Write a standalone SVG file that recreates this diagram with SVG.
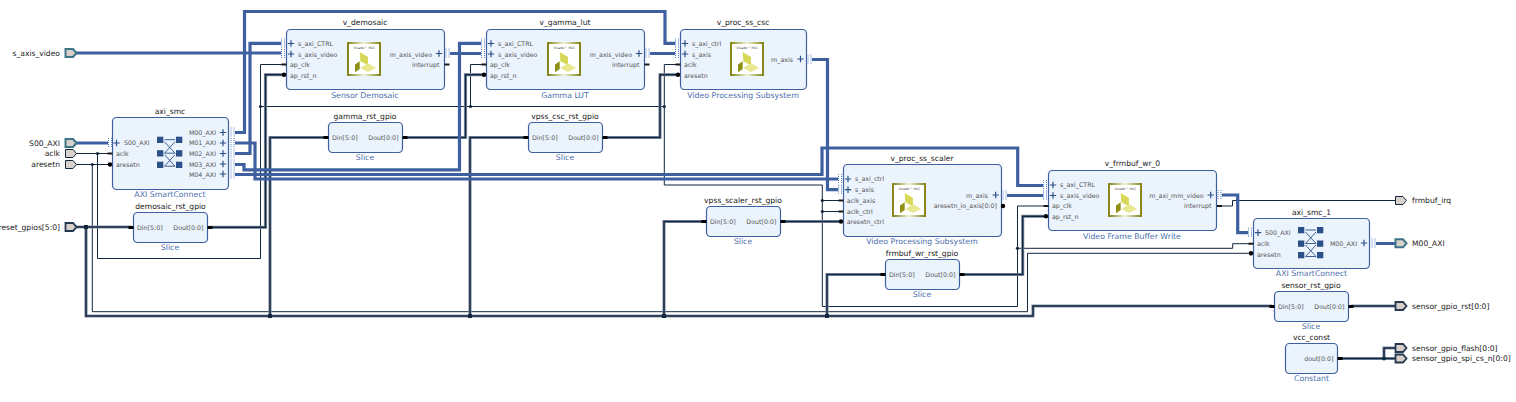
<svg xmlns="http://www.w3.org/2000/svg" xmlns:xlink="http://www.w3.org/1999/xlink" width="1516" height="402" viewBox="0 0 1516 402">
<style>
text{font-family:"DejaVu Sans",sans-serif;text-rendering:geometricPrecision}
.t{font-size:7.6px;fill:#1a1a1a;text-anchor:middle}
.s{font-size:7.8px;fill:#4d6fae;text-anchor:middle}
.p{font-size:6.3px;fill:#555}
.x{font-size:7.6px;fill:#222}
.b{fill:#ebf3fd;stroke:#3f60a0;stroke-width:1.2}
.bus{fill:none;stroke:#3f60a0;stroke-width:3.2}
.clk{fill:none;stroke:#12263f;stroke-width:1}
.hal{fill:none;stroke:#8796a8;stroke-width:3.2}
.dat{fill:none;stroke:#12263f;stroke-width:1.5}
.j{fill:#12263f}
.pb{fill:#d8d0cb;stroke:#3c7488;stroke-width:2}
.pc{fill:#d8d0cb;stroke:#12263f;stroke-width:1}
.pd{fill:#d8d0cb;stroke:#243850;stroke-width:1.8}
</style>
<defs>
<linearGradient id="g" x1="0" y1="0" x2="1" y2="0"><stop offset="0" stop-color="#85851a"/><stop offset="0.5" stop-color="#f2f2d8"/><stop offset="1" stop-color="#85851a"/></linearGradient>
<g id="bp"><rect x="-0.500" y="-5" width="4" height="10" fill="#fff"/><path d="M0-5V5M3-5V5" fill="none" stroke="#4a80c4" stroke-width="1" stroke-dasharray="1 1"/></g>
<path id="plus" d="M-3.200 0H3.200M0-3.200V3.200" fill="none" stroke="#2c5088" stroke-width="1.200"/>
<rect id="ck" x="-2.500" y="-1" width="5" height="2" fill="#1a1a1a"/>
<rect id="dp" x="-2.500" y="-1.500" width="5" height="3" fill="#000"/>
<circle id="rs" r="2.200" fill="#000"/>
<path id="pt" d="M0-4H7.500L11 0 7.500 4H0Z"/>
<g id="hls">
<rect x="1" y="1" width="32" height="32" fill="#fff" stroke="url(#g)" stroke-width="2"/>
<text x="17" y="6.800" font-size="3.200" fill="#333" text-anchor="middle">Vivado™ HLS</text>
<path d="M12.700 10 21 15V23.300L13.300 19.300Z" fill="#d8d858"/>
<path d="M13.300 26 21 21 29 26 21 30Z" fill="#e8e890"/>
<path d="M8 22.600 12.700 19.300V27L8 30.300Z" fill="#8f8f10"/>
</g>
<g id="xb">
<g fill="#2c5088"><rect x="0" y="0" width="6.300" height="6.300"/><rect x="19" y="0" width="6.300" height="6.300"/><rect x="0" y="13.500" width="6.300" height="6.300"/><rect x="19" y="13.500" width="6.300" height="6.300"/><rect x="0" y="25" width="6.300" height="6.300"/><rect x="19" y="25" width="6.300" height="6.300"/></g>
<path d="M7.500 3H18M7.500 5 18 16.500M18 5 7.500 16.500M7.500 16.500H18M7.500 18 18 29.500M18 18 7.500 29.500M7.500 29.500H18" fill="none" stroke="#2c5088" stroke-width="0.900"/>
</g>
</defs>
<rect width="1516" height="402" fill="#fff"/>
<g id="connectors">
<g id="clock-wires" class="clk">
<path d="M76 153.500H109M97.500 153.500V258.500H260.500V64.500H284M260.500 106.500H664.300M470.500 106.500V64.500H484M664.300 64.500H678M664.300 64.500V185H822.300V306.500H1017.500V206H1046M822.300 200.500H841M822.300 211.500H841M1017.500 248.300H1232.700V243.700H1251"/>
<path d="M76 164.500H109M92.300 164.500V311.700H1027.500V253.300H1251"/>
<path d="M1219 206H1232.500V200.500H1395"/>
</g>
<g id="data-halo" class="hal">
<path id="d1" d="M76 227H131M86 227V316H1033V306H1272"/>
<path id="d2" d="M270 316V137.500H326M470 316V137.500H526M664 316V221.500H704M827 316V274.500H883"/>
<path id="d3" d="M210 227.300H265.500V74.700H284M405 137.500H465.500V74.700H484M605 137.500H660V74.700H678M783 221.500H841M962 274.500H1022.700V216.300H1046M1351 306H1395M1340 358.500H1395M1384 358.500V348H1395"/>
</g>
<g id="data-core" class="dat">
<use xlink:href="#d1"/><use xlink:href="#d2"/><use xlink:href="#d3"/>
</g>
<g id="junctions" class="j">
<circle cx="97.500" cy="153.500" r="1.600"/><circle cx="92.300" cy="164.500" r="1.600"/>
<rect x="84" y="225" width="4" height="4"/>
<rect x="268" y="314" width="4" height="4"/><rect x="468" y="314" width="4" height="4"/><rect x="662" y="314" width="4" height="4"/><rect x="825" y="314" width="4" height="4"/>
<circle cx="260.500" cy="106.500" r="1.600"/><circle cx="470.500" cy="106.500" r="1.600"/><circle cx="664.300" cy="106.500" r="1.600"/>
<circle cx="822.300" cy="200.500" r="1.600"/><circle cx="822.300" cy="211.500" r="1.600"/><circle cx="1017.500" cy="248.300" r="1.600"/>
<circle cx="1384" cy="358.500" r="2"/>
</g>
<g id="bus-wires" class="bus">
<path d="M76 53H282M76 143H108"/>
<path d="M235 132.500H244.500V11.500H665V43.300H676"/>
<path d="M235 143H255V179H838"/>
<path d="M235 153.500H250V43.300H282"/>
<path d="M235 164.500H244V169.800H459.500V43.300H482"/>
<path d="M235 174.500H822V148H1017.700V185.500H1044"/>
<path d="M450 53.500H482M650 53.500H676M812 59.500H827.500V189.700H838M1007 195.500H1044M1222 195H1237.700V232.700H1249M1376 243.500H1395"/>
</g>
</g>
<g id="port_s_axis_video"><use xlink:href="#pt" x="65.500" y="53" class="pb"/><text x="60" y="55.800" class="x" text-anchor="end">s_axis_video</text></g>
<g id="port_S00_AXI"><use xlink:href="#pt" x="65.500" y="143" class="pb"/><text x="60" y="146" class="x" text-anchor="end">S00_AXI</text></g>
<g id="port_aclk"><use xlink:href="#pt" x="65.500" y="153.500" class="pc"/><text x="60" y="156.300" class="x" text-anchor="end">aclk</text></g>
<g id="port_aresetn"><use xlink:href="#pt" x="65.500" y="164.500" class="pc"/><text x="60" y="167.300" class="x" text-anchor="end">aresetn</text></g>
<g id="port_reset_gpios"><use xlink:href="#pt" x="65.500" y="227" class="pd"/><text x="60" y="229.800" class="x" text-anchor="end">reset_gpios[5:0]</text></g>
<g id="port_frmbuf_irq"><use xlink:href="#pt" x="1395.500" y="200.500" class="pc"/><text x="1412" y="203.300" class="x">frmbuf_irq</text></g>
<g id="port_M00_AXI"><use xlink:href="#pt" x="1395.500" y="243.300" class="pb"/><text x="1412" y="246.100" class="x">M00_AXI</text></g>
<g id="port_sensor_gpio_rst"><use xlink:href="#pt" x="1395.500" y="306" class="pd"/><text x="1412" y="309" class="x">sensor_gpio_rst[0:0]</text></g>
<g id="port_sensor_gpio_flash"><use xlink:href="#pt" x="1395.500" y="348" class="pd"/><text x="1412" y="351" class="x">sensor_gpio_flash[0:0]</text></g>
<g id="port_sensor_gpio_spi_cs_n"><use xlink:href="#pt" x="1395.500" y="358.500" class="pd"/><text x="1412" y="361" class="x">sensor_gpio_spi_cs_n[0:0]</text></g>

<g id="axi_smc">
<rect class="b" x="112.500" y="117.500" width="116" height="72" rx="4"/>
<text class="t" x="170" y="114">axi_smc</text><text class="s" x="170" y="197">AXI SmartConnect</text>
<use xlink:href="#bp" x="108.500" y="143"/><use xlink:href="#plus" x="116.500" y="143"/>
<use xlink:href="#ck" x="110" y="153.500"/><use xlink:href="#rs" x="110" y="164.500"/>
<text class="p" x="124" y="145.200">S00_AXI</text><text class="p" x="116" y="155.700">aclk</text><text class="p" x="116" y="166.700">aresetn</text>
<use xlink:href="#xb" x="157" y="136.700"/>
<text class="p" x="216" y="134.700" text-anchor="end">M00_AXI</text><text class="p" x="216" y="145.200" text-anchor="end">M01_AXI</text><text class="p" x="216" y="155.700" text-anchor="end">M02_AXI</text><text class="p" x="216" y="166.700" text-anchor="end">M03_AXI</text><text class="p" x="216" y="176.700" text-anchor="end">M04_AXI</text>
<use xlink:href="#plus" x="223" y="132.500"/><use xlink:href="#plus" x="223" y="143"/><use xlink:href="#plus" x="223" y="153.500"/><use xlink:href="#plus" x="223" y="164"/><use xlink:href="#plus" x="223" y="174"/>
<use xlink:href="#bp" x="231" y="132.500"/><use xlink:href="#bp" x="231" y="143"/><use xlink:href="#bp" x="231" y="153.500"/><use xlink:href="#bp" x="231" y="164.500"/><use xlink:href="#bp" x="231" y="174.500"/>
</g>

<g id="v_demosaic">
<rect class="b" x="286.500" y="29.500" width="158" height="60" rx="4"/>
<text class="t" x="365" y="25">v_demosaic</text><text class="s" x="365" y="98">Sensor Demosaic</text>
<use xlink:href="#bp" x="281.500" y="43.500"/><use xlink:href="#bp" x="281.500" y="54"/><use xlink:href="#plus" x="291" y="43.500"/><use xlink:href="#plus" x="291" y="54"/>
<use xlink:href="#ck" x="284" y="64.500"/><use xlink:href="#rs" x="284" y="74.700"/>
<text class="p" x="298" y="45.800">s_axi_CTRL</text><text class="p" x="298" y="56.500">s_axis_video</text><text class="p" x="290" y="66.800">ap_clk</text><text class="p" x="290" y="78">ap_rst_n</text>
<use xlink:href="#hls" x="347" y="42"/>
<text class="p" x="432" y="56.500" text-anchor="end">m_axis_video</text><text class="p" x="439.500" y="66.800" text-anchor="end">interrupt</text>
<use xlink:href="#plus" x="439" y="53.500"/><use xlink:href="#bp" x="446" y="53.500"/><use xlink:href="#ck" x="447" y="64.500"/>
</g>

<g id="v_gamma_lut">
<rect class="b" x="486.500" y="29.500" width="158" height="60" rx="4"/>
<text class="t" x="565" y="25">v_gamma_lut</text><text class="s" x="565" y="98">Gamma LUT</text>
<use xlink:href="#bp" x="481.500" y="43.500"/><use xlink:href="#bp" x="481.500" y="54"/><use xlink:href="#plus" x="491" y="43.500"/><use xlink:href="#plus" x="491" y="54"/>
<use xlink:href="#ck" x="484" y="64.500"/><use xlink:href="#rs" x="484" y="74.700"/>
<text class="p" x="498" y="45.800">s_axi_CTRL</text><text class="p" x="498" y="56.500">s_axis_video</text><text class="p" x="490" y="66.800">ap_clk</text><text class="p" x="490" y="78">ap_rst_n</text>
<use xlink:href="#hls" x="547" y="42"/>
<text class="p" x="632" y="56.500" text-anchor="end">m_axis_video</text><text class="p" x="639.500" y="66.800" text-anchor="end">interrupt</text>
<use xlink:href="#plus" x="639" y="53.500"/><use xlink:href="#bp" x="646" y="53.500"/><use xlink:href="#ck" x="647" y="64.500"/>
</g>

<g id="v_proc_ss_csc">
<rect class="b" x="680.500" y="29.500" width="126" height="60" rx="4"/>
<text class="t" x="743" y="25">v_proc_ss_csc</text><text class="s" x="743" y="98">Video Processing Subsystem</text>
<use xlink:href="#bp" x="675.500" y="43.500"/><use xlink:href="#bp" x="675.500" y="54"/><use xlink:href="#plus" x="685" y="43.500"/><use xlink:href="#plus" x="685" y="54"/>
<use xlink:href="#ck" x="678" y="64.500"/><use xlink:href="#rs" x="678" y="74.700"/>
<text class="p" x="692" y="45.800">s_axi_ctrl</text><text class="p" x="692" y="56.500">s_axis</text><text class="p" x="684" y="66.800">aclk</text><text class="p" x="684" y="78">aresetn</text>
<use xlink:href="#hls" x="730" y="42"/>
<text class="p" x="793" y="61.800" text-anchor="end">m_axis</text>
<use xlink:href="#plus" x="800.500" y="59"/><use xlink:href="#bp" x="808" y="59.500"/>
</g>

<g id="gamma_rst_gpio">
<rect class="b" x="328.500" y="122.500" width="74" height="30" rx="4"/>
<text class="t" x="365" y="119">gamma_rst_gpio</text><text class="s" x="365" y="160">Slice</text>
<use xlink:href="#dp" x="326" y="137.500"/><use xlink:href="#dp" x="405" y="137.500"/>
<text class="p" x="332" y="140">Din[5:0]</text><text class="p" x="398.500" y="140" text-anchor="end">Dout[0:0]</text>
</g>
<g id="vpss_csc_rst_gpio">
<rect class="b" x="528.500" y="122.500" width="74" height="30" rx="4"/>
<text class="t" x="565" y="119">vpss_csc_rst_gpio</text><text class="s" x="565" y="160">Slice</text>
<use xlink:href="#dp" x="526" y="137.500"/><use xlink:href="#dp" x="605" y="137.500"/>
<text class="p" x="532" y="140">Din[5:0]</text><text class="p" x="598.500" y="140" text-anchor="end">Dout[0:0]</text>
</g>
<g id="demosaic_rst_gpio">
<rect class="b" x="133.500" y="212.500" width="74" height="30" rx="4"/>
<text class="t" x="170.500" y="209">demosaic_rst_gpio</text><text class="s" x="170" y="250">Slice</text>
<use xlink:href="#dp" x="131" y="227.500"/><use xlink:href="#dp" x="210" y="227.500"/>
<text class="p" x="137" y="230">Din[5:0]</text><text class="p" x="203.500" y="230" text-anchor="end">Dout[0:0]</text>
</g>
<g id="vpss_scaler_rst_gpio">
<rect class="b" x="706.500" y="206.500" width="74" height="30" rx="4"/>
<text class="t" x="743" y="203">vpss_scaler_rst_gpio</text><text class="s" x="743" y="244">Slice</text>
<use xlink:href="#dp" x="704" y="221.500"/><use xlink:href="#dp" x="783" y="221.500"/>
<text class="p" x="710" y="224">Din[5:0]</text><text class="p" x="776.500" y="224" text-anchor="end">Dout[0:0]</text>
</g>
<g id="frmbuf_wr_rst_gpio">
<rect class="b" x="885.500" y="259.500" width="74" height="30" rx="4"/>
<text class="t" x="922" y="256">frmbuf_wr_rst_gpio</text><text class="s" x="922" y="297">Slice</text>
<use xlink:href="#dp" x="883" y="274.500"/><use xlink:href="#dp" x="962" y="274.500"/>
<text class="p" x="889" y="277">Din[5:0]</text><text class="p" x="955.500" y="277" text-anchor="end">Dout[0:0]</text>
</g>
<g id="sensor_rst_gpio">
<rect class="b" x="1274.500" y="291.500" width="74" height="30" rx="4"/>
<text class="t" x="1311" y="288">sensor_rst_gpio</text><text class="s" x="1311" y="329">Slice</text>
<use xlink:href="#dp" x="1272" y="306.500"/><use xlink:href="#dp" x="1351" y="306.500"/>
<text class="p" x="1278" y="309">Din[5:0]</text><text class="p" x="1344.500" y="309" text-anchor="end">Dout[0:0]</text>
</g>
<g id="vcc_const">
<rect class="b" x="1285.500" y="343.500" width="52" height="30" rx="4"/>
<text class="t" x="1311.500" y="340">vcc_const</text><text class="s" x="1311.500" y="381">Constant</text>
<use xlink:href="#dp" x="1340" y="358.500"/>
<text class="p" x="1333.500" y="361" text-anchor="end">dout[0:0]</text>
</g>

<g id="v_proc_ss_scaler">
<rect class="b" x="843.500" y="164.500" width="158" height="72" rx="4"/>
<text class="t" x="922" y="161">v_proc_ss_scaler</text><text class="s" x="922" y="244">Video Processing Subsystem</text>
<use xlink:href="#bp" x="838.500" y="179"/><use xlink:href="#bp" x="838.500" y="189.700"/><use xlink:href="#plus" x="848" y="179"/><use xlink:href="#plus" x="848" y="189.700"/>
<use xlink:href="#ck" x="841" y="200.500"/><use xlink:href="#ck" x="841" y="211.500"/><use xlink:href="#rs" x="841" y="221.500"/>
<text class="p" x="855" y="181.300">s_axi_ctrl</text><text class="p" x="855" y="192">s_axis</text><text class="p" x="846.700" y="202.800">aclk_axis</text><text class="p" x="846.700" y="213.800">aclk_ctrl</text><text class="p" x="846.700" y="224.300">aresetn_ctrl</text>
<use xlink:href="#hls" x="892" y="183"/>
<text class="p" x="988" y="197.800" text-anchor="end">m_axis</text><text class="p" x="997" y="208" text-anchor="end">aresetn_io_axis[0:0]</text>
<use xlink:href="#plus" x="995.700" y="195"/><use xlink:href="#bp" x="1003" y="195.500"/><use xlink:href="#rs" x="1003" y="206"/>
</g>

<g id="v_frmbuf_wr_0">
<rect class="b" x="1048.500" y="170.500" width="168" height="60" rx="4"/>
<text class="t" x="1132.500" y="166">v_frmbuf_wr_0</text><text class="s" x="1132" y="239">Video Frame Buffer Write</text>
<use xlink:href="#bp" x="1043.500" y="185"/><use xlink:href="#bp" x="1043.500" y="195.500"/><use xlink:href="#plus" x="1053" y="185"/><use xlink:href="#plus" x="1053" y="195.500"/>
<use xlink:href="#ck" x="1046" y="206"/><use xlink:href="#rs" x="1046" y="216.300"/>
<text class="p" x="1060" y="187.300">s_axi_CTRL</text><text class="p" x="1060" y="198">s_axis_video</text><text class="p" x="1052" y="208.300">ap_clk</text><text class="p" x="1052" y="219">ap_rst_n</text>
<use xlink:href="#hls" x="1108" y="183"/>
<text class="p" x="1203.700" y="198" text-anchor="end">m_axi_mm_video</text><text class="p" x="1211.500" y="208.300" text-anchor="end">interrupt</text>
<use xlink:href="#plus" x="1210.700" y="195"/><use xlink:href="#bp" x="1218" y="195"/><use xlink:href="#ck" x="1219.500" y="206"/>
</g>

<g id="axi_smc_1">
<rect class="b" x="1253.500" y="218.500" width="116" height="50" rx="4"/>
<text class="t" x="1311.500" y="215">axi_smc_1</text><text class="s" x="1311.500" y="276">AXI SmartConnect</text>
<use xlink:href="#bp" x="1248.500" y="232.700"/><use xlink:href="#plus" x="1258" y="232.700"/>
<use xlink:href="#ck" x="1251" y="243.700"/><use xlink:href="#rs" x="1251" y="253.300"/>
<text class="p" x="1265" y="235">S00_AXI</text><text class="p" x="1257" y="246">aclk</text><text class="p" x="1257" y="257">aresetn</text>
<use xlink:href="#xb" x="1298" y="227"/>
<text class="p" x="1357" y="245.800" text-anchor="end">M00_AXI</text>
<use xlink:href="#plus" x="1364" y="243"/><use xlink:href="#bp" x="1372" y="243.500"/>
</g>
</svg>
